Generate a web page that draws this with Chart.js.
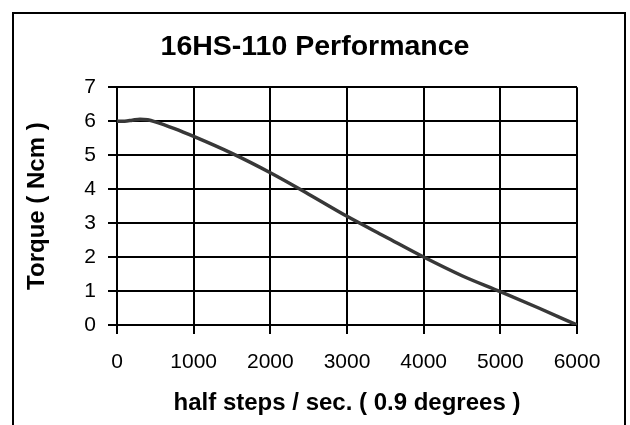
<!DOCTYPE html>
<html>
<head>
<meta charset="utf-8">
<script src="https://cdn.jsdelivr.net/npm/chart.js@4"></script>
<style>
  html, body { margin: 0; padding: 0; background: #fff; }
  #wrap { width: 630px; height: 425px; position: relative; }
</style>
</head>
<body>
<div id="wrap"><canvas id="c" width="630" height="425"></canvas></div>
<script>
const chartTitle = "16HS-110 Performance";
const xAxisTitle = "half steps / sec. ( 0.9 degrees )";
const yAxisTitle = "Torque ( Ncm )";
const speeds = [0, 100, 200, 300, 400, 500, 750, 1000, 1500, 2000, 2500, 3000, 3500, 4000, 4500, 5000, 5500, 6000];
const torque = [6.0, 6.0, 6.03, 6.06, 6.04, 5.98, 5.78, 5.55, 5.05, 4.48, 3.85, 3.2, 2.6, 2.0, 1.45, 0.98, 0.5, 0.0];
const xTicks = [0, 1000, 2000, 3000, 4000, 5000, 6000];
const yTicks = [0, 1, 2, 3, 4, 5, 6, 7];

const FONT = "'Liberation Sans', Arial, sans-serif";

const frame = {
  id: 'frame',
  afterDraw(chart) {
    const ctx = chart.ctx;
    ctx.save();
    ctx.strokeStyle = '#000';
    ctx.lineWidth = 2;
    ctx.beginPath();
    ctx.moveTo(13, 430);
    ctx.lineTo(13, 13);
    ctx.lineTo(625, 13);
    ctx.lineTo(625, 430);
    ctx.stroke();
    ctx.restore();
  }
};

new Chart(document.getElementById('c'), {
  type: 'line',
  data: {
    datasets: [{
      data: speeds.map((s, i) => ({ x: s, y: torque[i] })),
      borderColor: '#383838',
      borderWidth: 3.5,
      pointRadius: 0,
      cubicInterpolationMode: 'monotone',
      fill: false,
      yAxisID: 'y'
    }]
  },
  options: {
    responsive: false,
    animation: false,
    devicePixelRatio: 1,
    layout: { padding: { left: 0, right: 0, top: 0, bottom: 0 } },
    plugins: {
      legend: { display: false },
      tooltip: { enabled: false },
      title: {
        display: true,
        text: chartTitle,
        color: '#000',
        font: { family: FONT, size: 28.5, weight: 'bold', lineHeight: 1.2 },
        padding: { top: 30, bottom: 23 }
      }
    },
    scales: {
      x: {
        type: 'linear',
        min: 0, max: 6000,
        afterBuildTicks: (s) => { s.ticks = xTicks.map(v => ({ value: v })); },
        afterFit: (s) => { s.height = 100; },
        grid: { color: '#000', lineWidth: 2, tickLength: 9, drawTicks: true },
        border: { color: '#000', width: 2 },
        ticks: { color: '#000', padding: 16, maxRotation: 0, font: { family: FONT, size: 21 },
                 callback: (v) => String(v) },
        title: {
          display: true, text: xAxisTitle, color: '#000',
          font: { family: FONT, size: 24, weight: 'bold', lineHeight: 1.2 },
          padding: { top: 0, bottom: 7 }
        }
      },
      y: {
        min: 0, max: 7,
        afterBuildTicks: (s) => { s.ticks = yTicks.map(v => ({ value: v })); },
        afterFit: (s) => { s.width = 117; },
        grid: { color: '#000', lineWidth: 2, tickLength: 9, drawTicks: true },
        border: { color: '#000', width: 2 },
        ticks: { color: '#000', padding: 12, font: { family: FONT, size: 21 },
                 callback: (v) => String(v) },
        title: {
          display: true, text: yAxisTitle, color: '#000',
          font: { family: FONT, size: 24, weight: 'bold', lineHeight: 1.2 },
          padding: { top: 23, bottom: 0 }
        }
      },
      spacer: {
        position: 'right',
        display: true,
        min: 0, max: 1,
        afterFit: (s) => { s.width = 53; },
        grid: { display: false, drawTicks: false },
        border: { display: false },
        ticks: { display: false }
      }
    }
  },
  plugins: [frame]
});
</script>
</body>
</html>
